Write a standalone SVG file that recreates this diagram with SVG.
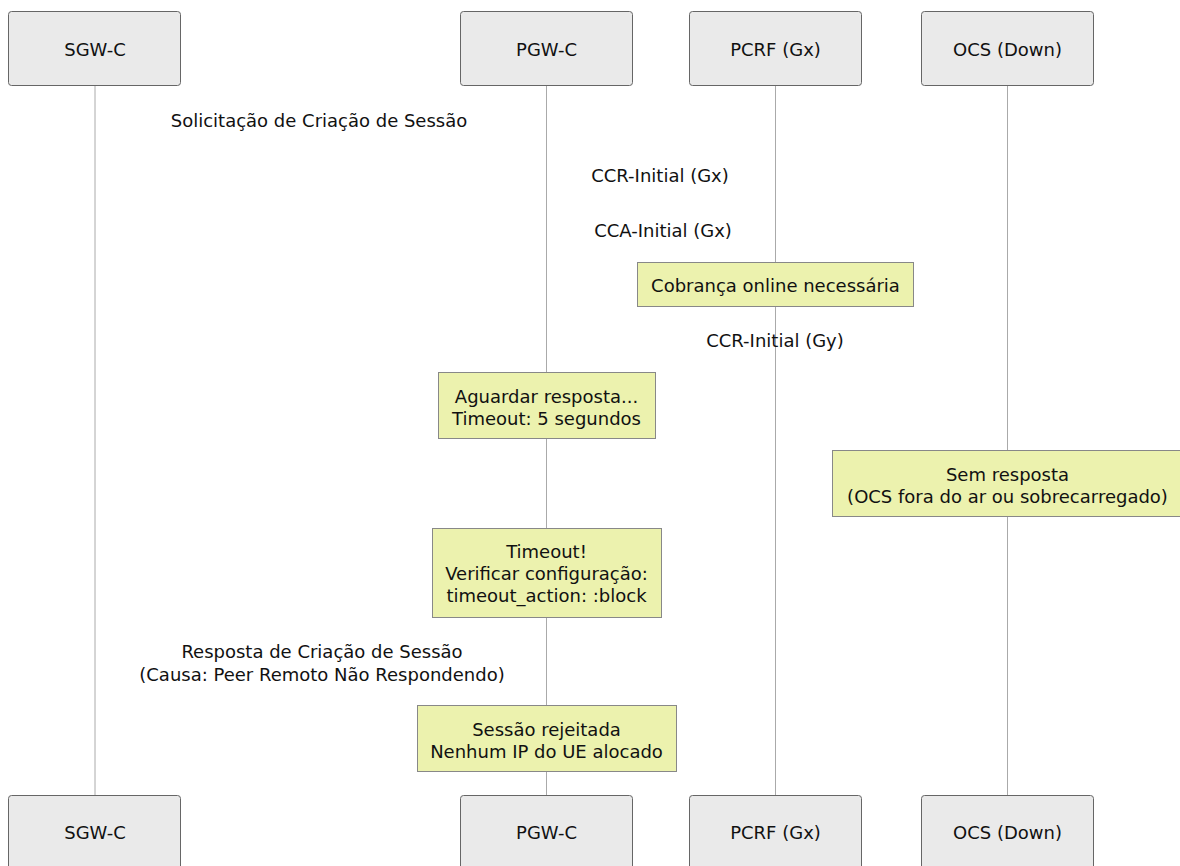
<svg xmlns="http://www.w3.org/2000/svg" width="1180" height="866" viewBox="0 0 1180 866">
<style>
text{font-family:"DejaVu Sans","Liberation Sans",sans-serif;font-size:18px;fill:#111;text-anchor:middle;dominant-baseline:central}
.actor rect{fill:#eaeaea;stroke:#666;stroke-width:1}
.note rect{fill:#ecf2ae;stroke:#888;stroke-width:1}
.life{stroke:#aaa;stroke-width:1;fill:none}
</style>
<rect width="1180" height="866" fill="#fff"/>
<g id="lifelines">
<line class="life" x1="95" y1="86" x2="95" y2="795"/>
<line class="life" x1="546.5" y1="86" x2="546.5" y2="795"/>
<line class="life" x1="775.5" y1="86" x2="775.5" y2="795"/>
<line class="life" x1="1007.5" y1="86" x2="1007.5" y2="795"/>
</g>
<g id="actor-sgwc-top" class="actor"><rect x="8.5" y="11.5" width="172" height="74" rx="3"/><text x="95" y="49">SGW-C</text></g>
<g id="actor-pgwc-top" class="actor"><rect x="460.5" y="11.5" width="172" height="74" rx="3"/><text x="546.5" y="49">PGW-C</text></g>
<g id="actor-pcrf-top" class="actor"><rect x="689.5" y="11.5" width="172" height="74" rx="3"/><text x="775.5" y="49">PCRF (Gx)</text></g>
<g id="actor-ocs-top" class="actor"><rect x="921.5" y="11.5" width="172" height="74" rx="3"/><text x="1007.5" y="49">OCS (Down)</text></g>
<g id="messages">
<text x="319" y="120">Solicitação de Criação de Sessão</text>
<text x="660" y="175">CCR-Initial (Gx)</text>
<text x="663" y="230">CCA-Initial (Gx)</text>
<text x="775" y="340">CCR-Initial (Gy)</text>
<text x="322" y="651">Resposta de Criação de Sessão</text>
<text x="322" y="674">(Causa: Peer Remoto Não Respondendo)</text>
</g>
<g id="note-cobranca" class="note"><rect x="637.5" y="262.5" width="276" height="44"/><text x="775.5" y="285">Cobrança online necessária</text></g>
<g id="note-aguardar" class="note"><rect x="438.5" y="372.5" width="217" height="66"/><text x="546.5" y="396">Aguardar resposta...</text><text x="546.5" y="418">Timeout: 5 segundos</text></g>
<g id="note-sem-resposta" class="note"><rect x="832.5" y="450.5" width="350" height="66"/><text x="1007.5" y="474">Sem resposta</text><text x="1007.5" y="496">(OCS fora do ar ou sobrecarregado)</text></g>
<g id="note-timeout" class="note"><rect x="432.5" y="528.5" width="229" height="89"/><text x="546.5" y="551">Timeout!</text><text x="546.5" y="573">Verificar configuração:</text><text x="546.5" y="595">timeout_action: :block</text></g>
<g id="note-rejeitada" class="note"><rect x="417.5" y="705.5" width="259" height="66"/><text x="546.5" y="729">Sessão rejeitada</text><text x="546.5" y="751">Nenhum IP do UE alocado</text></g>
<g id="actor-sgwc-bottom" class="actor"><rect x="8.5" y="795.5" width="172" height="74" rx="3"/><text x="95" y="832">SGW-C</text></g>
<g id="actor-pgwc-bottom" class="actor"><rect x="460.5" y="795.5" width="172" height="74" rx="3"/><text x="546.5" y="832">PGW-C</text></g>
<g id="actor-pcrf-bottom" class="actor"><rect x="689.5" y="795.5" width="172" height="74" rx="3"/><text x="775.5" y="832">PCRF (Gx)</text></g>
<g id="actor-ocs-bottom" class="actor"><rect x="921.5" y="795.5" width="172" height="74" rx="3"/><text x="1007.5" y="832">OCS (Down)</text></g>
</svg>
